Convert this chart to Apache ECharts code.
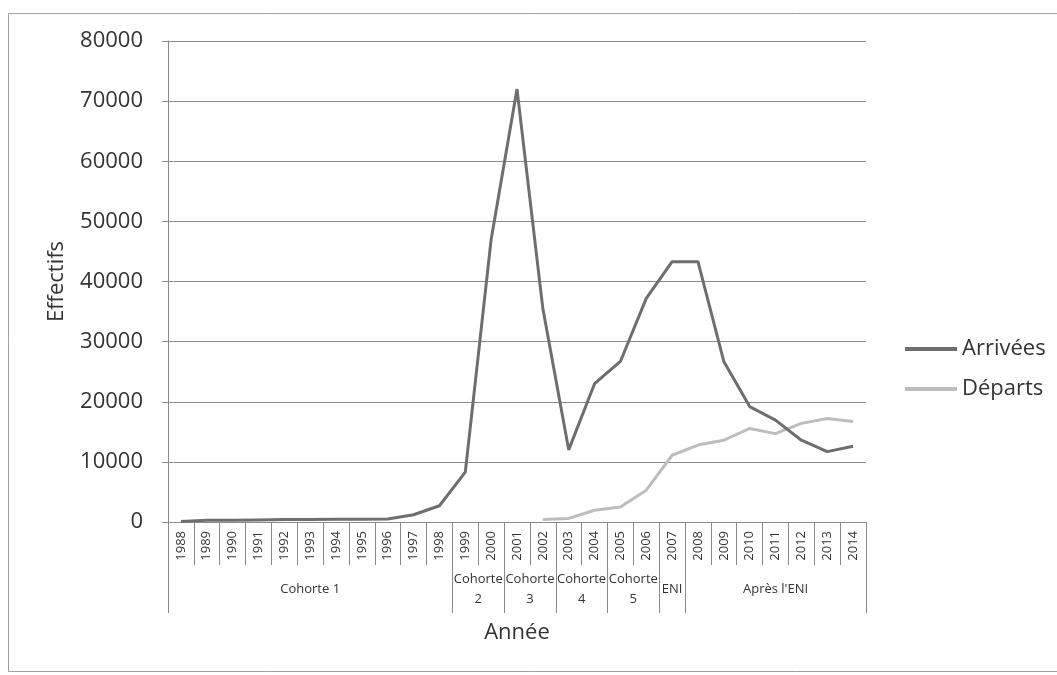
<!DOCTYPE html>
<html>
<head>
<meta charset="utf-8">
<script src="https://cdn.jsdelivr.net/npm/echarts@6/dist/echarts.min.js"></script>
<style>
html,body{margin:0;padding:0;background:#fff;}
#chart{width:1057px;height:675px;}
</style>
</head>
<body>
<div id="chart"></div>
<script>
var years = ['1988','1989','1990','1991','1992','1993','1994','1995','1996','1997','1998','1999','2000','2001','2002','2003','2004','2005','2006','2007','2008','2009','2010','2011','2012','2013','2014'];
var arrivees = [100,300,300,350,400,400,450,450,500,1200,2700,8300,47000,72000,35500,12000,23000,26700,37200,43300,43300,26700,19200,16950,13600,11700,12600];
var departs = [null,null,null,null,null,null,null,null,null,null,null,null,null,null,400,600,1950,2500,5300,11100,12800,13600,15550,14700,16400,17200,16700];
var yTicks = [0,10000,20000,30000,40000,50000,60000,70000,80000];
var groupLabels = ['Cohorte 1','Cohorte\n2','Cohorte\n3','Cohorte\n4','Cohorte\n5','ENI',"Après l'ENI"];
var groupBounds = [0,11,13,15,17,19,20,27];

var groupCenters = [];
var centerLabel = {};
for (var i = 0; i < groupLabels.length; i++) {
  var c = (groupBounds[i] + groupBounds[i+1]) / 2;
  groupCenters.push(c);
  centerLabel[c] = groupLabels[i];
}

var FONT = 'Open Sans';
var chart = echarts.init(document.getElementById('chart'), null, {renderer:'canvas'});
chart.setOption({
  backgroundColor: '#fff',
  animation: false,
  textStyle: {fontFamily: FONT},
  graphic: [{
    type: 'rect', shape: {x: 8.5, y: 13.5, width: 1060, height: 658},
    style: {fill: 'none', stroke: '#a0a0a0', lineWidth: 1}, silent: true, z: -1
  }],
  grid: {left: 168, right: 191, top: 41, bottom: 153, containLabel: false},
  legend: {
    orient: 'vertical', left: 900, top: 333, itemWidth: 52, itemHeight: 4, itemGap: 18,
    icon: 'rect',
    textStyle: {fontFamily: FONT, fontSize: 22, color: '#333'},
    data: ['Arrivées', 'Départs']
  },
  xAxis: [{
    type: 'category', data: years, boundaryGap: true, position: 'bottom',
    name: 'Année', nameLocation: 'middle', nameGap: 100,
    nameTextStyle: {fontFamily: FONT, fontSize: 22, color: '#333'},
    axisLine: {show: true, lineStyle: {color: '#8a8a8a', width: 1}},
    axisTick: {show: true, interval: 0, length: 43, lineStyle: {color: '#8a8a8a'}},
    axisLabel: {interval: 0, rotate: 90, margin: 9, fontFamily: FONT, fontSize: 13, color: '#333'},
    splitLine: {show: false}
  }, {
    type: 'value', min: 0, max: 27, position: 'bottom',
    axisLine: {show: false},
    axisTick: {show: true, length: 91, customValues: groupBounds, lineStyle: {color: '#8a8a8a'}},
    axisLabel: {
      show: true, customValues: groupCenters, margin: 67, verticalAlign: 'middle',
      fontFamily: FONT, fontSize: 13, lineHeight: 20, color: '#333',
      formatter: function (v) { return centerLabel[v] || ''; }
    },
    splitLine: {show: false}
  }],
  yAxis: {
    type: 'value', min: 0, max: 80000, interval: 10000,
    name: 'Effectifs', nameLocation: 'middle', nameGap: 100, nameRotate: 90,
    nameTextStyle: {fontFamily: FONT, fontSize: 22, color: '#333'},
    axisLine: {show: true, lineStyle: {color: '#8a8a8a', width: 1}},
    axisTick: {show: true, length: 6, lineStyle: {color: '#8a8a8a'}},
    axisLabel: {margin: 25, fontFamily: FONT, fontSize: 22, color: '#333',
      formatter: function (v) { return yTicks.indexOf(v) >= 0 ? String(v) : ''; }},
    splitLine: {show: true, lineStyle: {color: '#8a8a8a', width: 1}}
  },
  series: [{
    name: 'Arrivées', type: 'line', data: arrivees, symbol: 'none', xAxisIndex: 0,
    lineStyle: {color: '#6e6e6e', width: 3}, itemStyle: {color: '#6e6e6e'}, z: 3
  }, {
    name: 'Départs', type: 'line', data: departs, symbol: 'none', xAxisIndex: 0,
    lineStyle: {color: '#bdbdbd', width: 3}, itemStyle: {color: '#bdbdbd'}, z: 2
  }]
});
</script>
</body>
</html>
